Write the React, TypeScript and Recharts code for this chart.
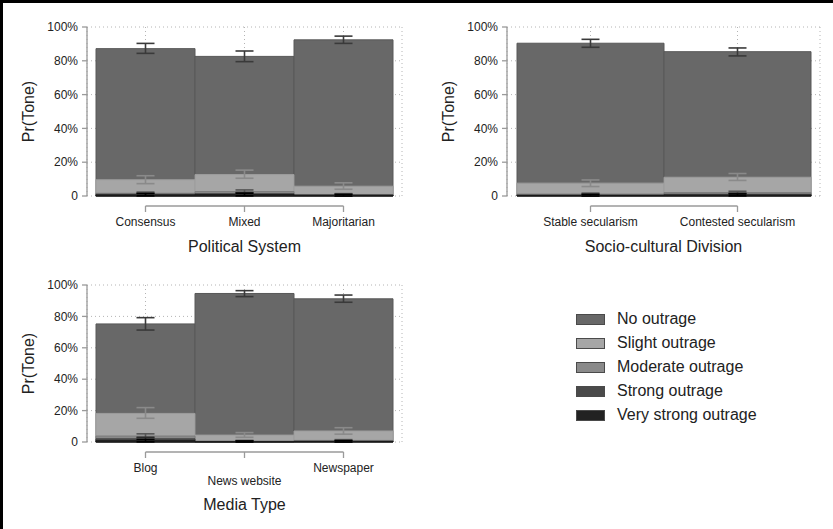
import { BarChart, Bar, XAxis, YAxis, CartesianGrid, ErrorBar } from "recharts";

// categories
const politicalCats = ["Consensus", "Mixed", "Majoritarian"];
const socioCats = ["Stable secularism", "Contested secularism"];
const mediaCats = ["Blog", "News website", "Newspaper"];

// Political System: predicted probability (%) and 95% CI
const polNo = [87.2, 82.6, 92.4];
const polNoCI = [[84.4, 90.3], [79.5, 85.8], [90.3, 94.6]];
const polSlight = [9.6, 12.7, 5.8];
const polSlightCI = [[7.3, 12.0], [10.5, 15.3], [4.0, 7.8]];
const polModerate = [1.6, 2.6, 0.9];
const polModerateCI = [[0.9, 2.3], [1.6, 3.6], [0.4, 1.4]];
const polStrong = [1.0, 1.3, 0.5];
const polStrongCI = [[0.4, 1.6], [0.6, 2.0], [0.1, 0.9]];
const polVery = [0.6, 0.8, 0.4];
const polVeryCI = [[0.1, 1.4], [0.1, 1.6], [0.0, 0.9]];

// Socio-cultural Division
const socNo = [90.4, 85.4];
const socNoCI = [[88.0, 92.7], [82.9, 87.6]];
const socSlight = [7.6, 11.1];
const socSlightCI = [[5.6, 9.5], [9.2, 13.3]];
const socModerate = [1.1, 2.0];
const socModerateCI = [[0.6, 1.7], [1.2, 2.8]];
const socStrong = [0.6, 1.0];
const socStrongCI = [[0.2, 1.0], [0.4, 1.6]];
const socVery = [0.3, 0.5];
const socVeryCI = [[0.0, 0.9], [0.1, 1.2]];

// Media Type
const medNo = [75.2, 94.6, 91.2];
const medNoCI = [[71.3, 79.2], [92.6, 96.4], [89.0, 93.6]];
const medSlight = [18.2, 4.4, 7.0];
const medSlightCI = [[15.1, 21.9], [3.0, 6.0], [5.0, 9.1]];
const medModerate = [3.8, 0.6, 1.0];
const medModerateCI = [[2.6, 5.2], [0.2, 1.0], [0.5, 1.5]];
const medStrong = [2.0, 0.3, 0.5];
const medStrongCI = [[1.0, 3.0], [0.0, 0.7], [0.1, 0.9]];
const medVery = [0.8, 0.1, 0.3];
const medVeryCI = [[0.1, 1.6], [0.0, 0.6], [0.0, 0.8]];

const yTicks = [0, 20, 40, 60, 80, 100];

const SERIES = [
  { key: "no", name: "No outrage", fill: "#686868", stroke: "#585858", err: "#3a3a3a" },
  { key: "slight", name: "Slight outrage", fill: "#a6a6a6", stroke: "#9c9c9c", err: "#8a8a8a" },
  { key: "moderate", name: "Moderate outrage", fill: "#8a8a8a", stroke: "#7c7c7c", err: "#555555" },
  { key: "strong", name: "Strong outrage", fill: "#4a4a4a", stroke: "#404040", err: "#2a2a2a" },
  { key: "very", name: "Very strong outrage", fill: "#222222", stroke: "#1a1a1a", err: "#000000" },
];

type Series = Record<string, { v: number[]; ci: number[][] }>;

function buildRows(cats: string[], s: Series) {
  return cats.map((name, i) => {
    const row: any = { name };
    for (const k of Object.keys(s)) {
      const v = s[k].v[i];
      row[k] = v;
      row[k + "Err"] = [v - s[k].ci[i][0], s[k].ci[i][1] - v];
    }
    return row;
  });
}

const politicalRows = buildRows(politicalCats, {
  no: { v: polNo, ci: polNoCI },
  slight: { v: polSlight, ci: polSlightCI },
  moderate: { v: polModerate, ci: polModerateCI },
  strong: { v: polStrong, ci: polStrongCI },
  very: { v: polVery, ci: polVeryCI },
});
const socioRows = buildRows(socioCats, {
  no: { v: socNo, ci: socNoCI },
  slight: { v: socSlight, ci: socSlightCI },
  moderate: { v: socModerate, ci: socModerateCI },
  strong: { v: socStrong, ci: socStrongCI },
  very: { v: socVery, ci: socVeryCI },
});
const mediaRows = buildRows(mediaCats, {
  no: { v: medNo, ci: medNoCI },
  slight: { v: medSlight, ci: medSlightCI },
  moderate: { v: medModerate, ci: medModerateCI },
  strong: { v: medStrong, ci: medStrongCI },
  very: { v: medVery, ci: medVeryCI },
});

const TEXT = "#222";
const AXIS = "#9a9a9a";
const MARGIN_LEFT = 14;
const Y_AXIS_W = 73;

// x axis in Stata style: a bracket that runs from the first to the last category, offset below the plot
function CatTick(props: any) {
  const { x, y, payload, index, stagger, step, count } = props;
  const drop = stagger && index % 2 === 1 ? 13 : 0;
  const lineY = y + 10;
  const x1 = index > 0 ? x - step / 2 : x;
  const x2 = index < count - 1 ? x + step / 2 : x;
  return (
    <g>
      <line x1={x1} x2={x2} y1={lineY} y2={lineY} stroke={AXIS} strokeWidth={1.3} />
      <line x1={x} x2={x} y1={lineY} y2={lineY + 6} stroke={AXIS} strokeWidth={1.3} />
      <text x={x} y={y + 30 + drop} textAnchor="middle" fontSize={12} fill={TEXT}>
        {payload.value}
      </text>
    </g>
  );
}

function Panel({
  rows,
  title,
  width,
  height,
  right,
  xAxisHeight,
  padding,
  stagger,
}: {
  rows: any[];
  title: string;
  width: number;
  height: number;
  right: number;
  xAxisHeight: number;
  padding: { left: number; right: number };
  stagger?: boolean;
}) {
  const top = 27;
  const step = (width - MARGIN_LEFT - Y_AXIS_W - right - padding.left - padding.right) / rows.length;
  return (
    <BarChart
      width={width}
      height={height}
      data={rows}
      margin={{ top, right, bottom: 0, left: MARGIN_LEFT }}
      barCategoryGap={0}
      barGap="-100%"
    >
      <CartesianGrid stroke="#b4b4b4" strokeDasharray="1 3" />
      <XAxis
        dataKey="name"
        axisLine={false}
        tickLine={false}
        tickSize={0}
        tickMargin={0}
        interval={0}
        height={xAxisHeight}
        padding={padding}
        tick={(p: any) => <CatTick {...p} stagger={stagger} step={step} count={rows.length} />}
        label={{ value: title, position: "insideBottom", offset: 10, style: { fontSize: 16, fill: TEXT } }}
      />
      <YAxis
        domain={[0, 100]}
        ticks={yTicks}
        width={Y_AXIS_W}
        tickSize={5}
        tickMargin={4}
        axisLine={{ stroke: AXIS, strokeWidth: 1.3 }}
        tickLine={{ stroke: AXIS, strokeWidth: 1.3 }}
        tick={{ fontSize: 12, fill: TEXT }}
        tickFormatter={(v: number) => (v === 0 ? "0" : `${v}%`)}
        label={{
          value: "Pr(Tone)",
          angle: -90,
          position: "insideLeft",
          offset: 14,
          style: { textAnchor: "middle", fontSize: 16, fill: TEXT },
        }}
      />
      {SERIES.map((s) => (
        <Bar key={s.key} dataKey={s.key} name={s.name} fill={s.fill} stroke={s.stroke} strokeWidth={1} isAnimationActive={false}>
          <ErrorBar dataKey={s.key + "Err"} width={9} stroke={s.err} strokeWidth={1.6} direction="y" />
        </Bar>
      ))}
    </BarChart>
  );
}

function Legend() {
  return (
    <div style={{ position: "absolute", left: 576, top: 307 }}>
      {SERIES.map((s) => (
        <div key={s.key} style={{ display: "flex", alignItems: "center", height: 24 }}>
          <div
            style={{
              width: 27,
              height: 9,
              background: s.fill,
              border: "1px solid #4a4a4a",
              marginRight: 12,
            }}
          />
          <span style={{ fontSize: 16, color: TEXT }}>{s.name}</span>
        </div>
      ))}
    </div>
  );
}

export default function App() {
  return (
    <div
      style={{
        position: "absolute",
        left: 0,
        top: 0,
        width: 833,
        height: 529,
        background: "#fff",
        fontFamily: "'Liberation Sans', Arial, sans-serif",
        overflow: "hidden",
      }}
    >
      <div style={{ position: "absolute", left: 0, top: 0, width: 833, height: 3, background: "#000" }} />
      <div style={{ position: "absolute", left: 0, top: 0, width: 3, height: 529, background: "#000" }} />
      <div style={{ position: "absolute", left: 0, top: 0 }}>
        <Panel
          rows={politicalRows}
          title="Political System"
          width={420}
          height={262}
          right={18}
          xAxisHeight={66}
          padding={{ left: 9, right: 9 }}
        />
      </div>
      <div style={{ position: "absolute", left: 420, top: 0 }}>
        <Panel
          rows={socioRows}
          title="Socio-cultural Division"
          width={413}
          height={262}
          right={13}
          xAxisHeight={66}
          padding={{ left: 10, right: 9 }}
        />
      </div>
      <div style={{ position: "absolute", left: 0, top: 258 }}>
        <Panel
          rows={mediaRows}
          title="Media Type"
          width={420}
          height={262}
          right={18}
          xAxisHeight={78}
          padding={{ left: 9, right: 9 }}
          stagger
        />
      </div>
      <Legend />
    </div>
  );
}
